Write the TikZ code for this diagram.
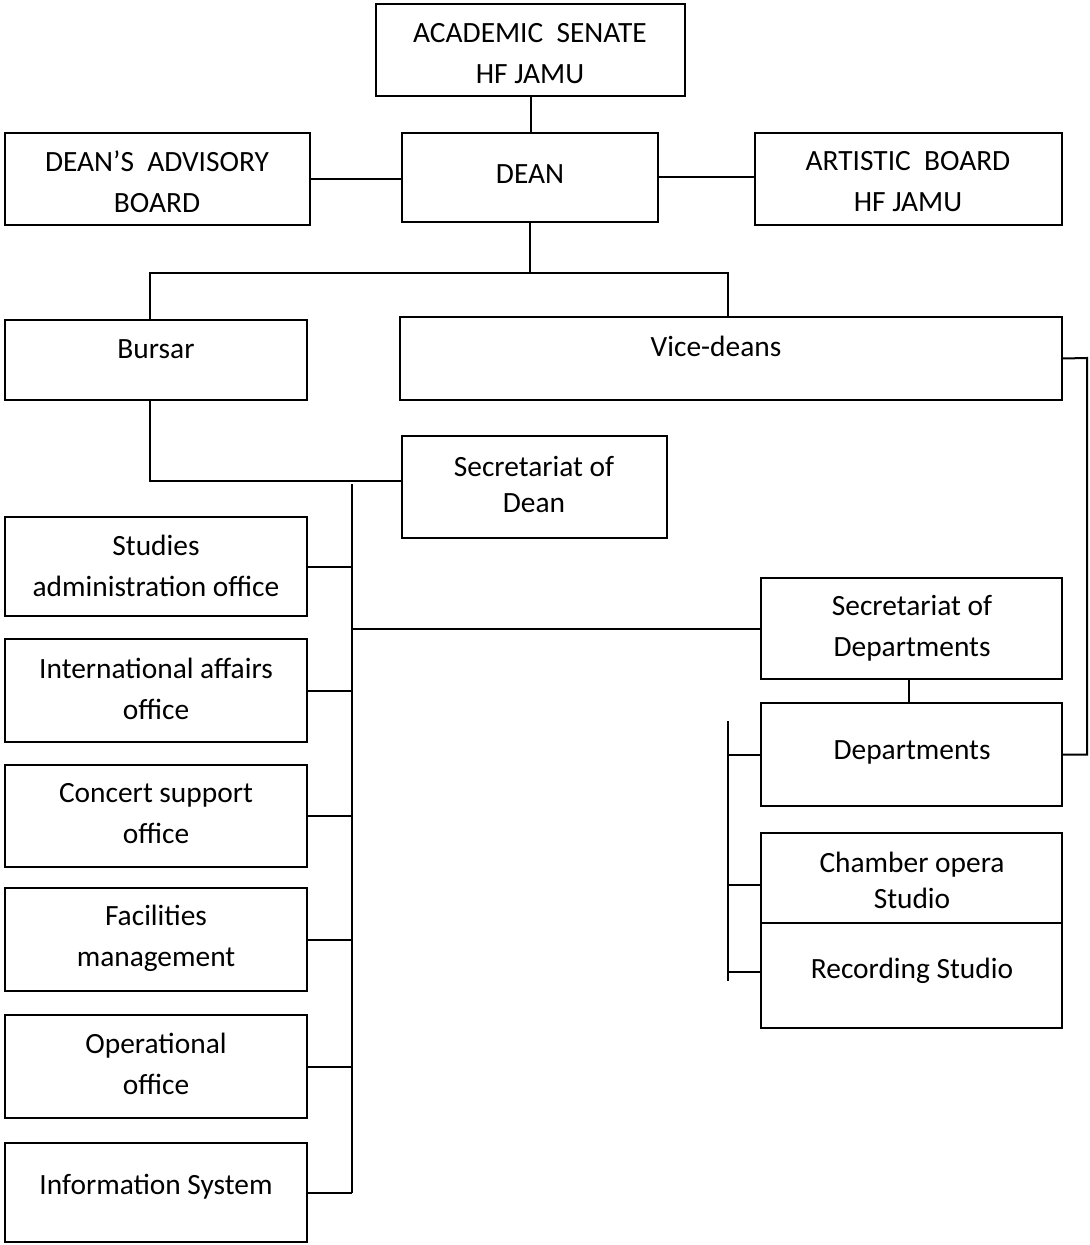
\documentclass[tikz,border=0pt]{standalone}
\usepackage{fontspec}
\setmainfont{Carlito}
\usetikzlibrary{fit}
\begin{document}
\begin{tikzpicture}[x=0.5pt,y=-0.5pt,
  box/.style={draw, line width=0.8pt, inner sep=0pt},
  lbl/.style={align=center, inner sep=0pt, font=\fontsize{14.7pt}{20.5pt}\selectfont},
  lbltight/.style={lbl, font=\fontsize{14.7pt}{18pt}\selectfont},
  conn/.style={line width=1pt}]
\useasboundingbox (0,0) rectangle (1089,1245);
% boxes
\node[box, fit={(376,4)(685,96)}] (senate) {};
\node[box, fit={(5,133)(310,225)}] (adv) {};
\node[box, fit={(402,133)(658,222)}] (dean) {};
\node[box, fit={(755,133)(1062,225)}] (art) {};
\node[box, fit={(5,320)(307,400)}] (bursar) {};
\node[box, fit={(400,317)(1062,400)}] (vice) {};
\node[box, fit={(402,436)(667,538)}] (secd) {};
\node[box, fit={(5,517)(307,616)}] (stud) {};
\node[box, fit={(5,639)(307,742)}] (intl) {};
\node[box, fit={(5,765)(307,867)}] (conc) {};
\node[box, fit={(5,888)(307,991)}] (fac) {};
\node[box, fit={(5,1015)(307,1118)}] (oper) {};
\node[box, fit={(5,1143)(307,1242)}] (info) {};
\node[box, fit={(761,578)(1062,679)}] (secdep) {};
\node[box, fit={(761,703)(1062,806)}] (dep) {};
\node[box, fit={(761,833)(1062,923)}] (cham) {};
\node[box, fit={(761,923)(1062,1028)}] (rec) {};
% labels
\node[lbl] (t-senate) at (530,54) {ACADEMIC\ \ SENATE\\HF JAMU};
\node[lbl] (t-adv) at (157,182) {DEAN’S\ \ ADVISORY\\BOARD};
\node[lbl] (t-dean) at (530,174) {DEAN};
\node[lbl] (t-art) at (908,182) {ARTISTIC\ \ BOARD\\HF JAMU};
\node[lbl] (t-bursar) at (156,349) {Bursar};
\node[lbl] (t-vice) at (716,346) {Vice-deans};
\node[lbltight] (t-secd) at (534,484) {Secretariat of\\Dean};
\node[lbl] (t-stud) at (156,566) {Studies\\administration office};
\node[lbl] (t-intl) at (156,689) {International affairs\\office};
\node[lbl] (t-conc) at (156,814) {Concert support\\office};
\node[lbl] (t-fac) at (156,938) {Facilities\\management};
\node[lbl] (t-oper) at (156,1064) {Operational\\office};
\node[lbl] (t-info) at (156,1187) {Information System};
\node[lbl] (t-secdep) at (912,628) {Secretariat of\\Departments};
\node[lbl] (t-dep) at (912,752) {Departments};
\node[lbltight] (t-cham) at (912,880) {Chamber opera\\Studio};
\node[lbl] (t-rec) at (912,971) {Recording Studio};
% junction coordinates
\coordinate (j1) at (530,273);
\coordinate (bl) at (150,273);
\coordinate (br) at (728,273);
\coordinate (sj) at (150,481);
\coordinate (bt) at (352,484);
\coordinate (bb) at (352,1193);
\coordinate (rt) at (728,721);
\coordinate (rb) at (728,981);
\coordinate (vr) at (1087,358);
% connectors
\draw[conn] (senate.south) -- (senate.south |- dean.north);
\draw[conn] (adv.east) -- (adv.east -| dean.west);
\draw[conn] (dean.east) -- (dean.east -| art.west);
\draw[conn] (dean.south) -- (j1);
\draw[conn] (bl |- bursar.north) -- (bl) -- (br) -- (br |- vice.north);
\draw[conn] (sj |- bursar.south) -- (sj) -- (sj -| secd.west);
\draw[conn] (bt) -- (bb);
\draw[conn] (stud.east) -- (stud.east -| bt);
\draw[conn] (intl.east) -- (intl.east -| bt);
\draw[conn] (conc.east) -- (conc.east -| bt);
\draw[conn] (fac.east) -- (fac.east -| bt);
\draw[conn] (oper.east) -- (oper.east -| bt);
\draw[conn] (info.east) -- (info.east -| bt);
\draw[conn] (secdep.west) -- (secdep.west -| bt);
\draw[conn] (909,679) -- (909,703);
\draw[conn] (rt) -- (rb);
\draw[conn] (rt |- dep.west) -- (dep.west);
\draw[conn] (728,885) -- (cham.west |- 0,885);
\draw[conn] (728,972) -- (rec.west |- 0,972);
\draw[conn] (vice.east) -- (vr) -- (vr |- dep.east) -- (dep.east);
\end{tikzpicture}
\end{document}
